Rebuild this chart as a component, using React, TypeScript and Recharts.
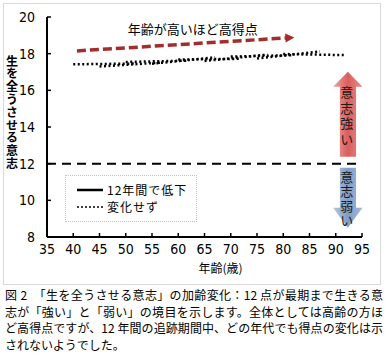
import React from 'react';
import {
  LineChart, Line, XAxis, YAxis, ReferenceLine, ReferenceArea, ReferenceDot, Legend
} from 'recharts';

const xTicks = [35, 40, 45, 50, 55, 60, 65, 70, 75, 80, 85, 90, 95];
const yTicks = [8, 10, 12, 14, 16, 18, 20];
const boundaryScore = 12;

// 年代別コホート：追跡開始時と12年後の得点
const cohortStartAge = [40, 45, 50, 55, 60, 65, 70, 75, 80];
const cohortEndAge = [52, 57, 62, 67, 72, 77, 82, 87, 92];
const cohortStartScore = [17.42, 17.3, 17.55, 17.45, 17.68, 17.6, 17.84, 17.74, 17.98];
const cohortEndScore = [17.46, 17.52, 17.62, 17.8, 17.72, 17.95, 17.92, 18.12, 17.92];

// 「年齢が高いほど高得点」の矢印
const trendAge = [40.7, 80.6];
const trendScore = [18.15, 18.86];

const legendItems = [
  { name: '12年間で低下', dash: undefined },
  { name: '変化せず', dash: '2 2' },
];

const captionLines = [
  '図 2　「生を全うさせる意志」の加齢変化：12 点が最期まで生きる意',
  '志が「強い」と「弱い」の境目を示します。全体としては高齢の方ほ',
  'ど高得点ですが、12 年間の追跡期間中、どの年代でも得点の変化は示',
  'されないようでした。',
];

const FONT = '"Noto Sans CJK JP", "Noto Sans", sans-serif';
const TICK_FONT = '"Liberation Sans Narrow", "DejaVu Sans Condensed", sans-serif';
const VERTICAL: React.CSSProperties = { writingMode: 'vertical-rl', textOrientation: 'upright' } as any;

const cohorts = cohortStartAge.map((a, i) => [
  { age: a, score: cohortStartScore[i] },
  { age: cohortEndAge[i], score: cohortEndScore[i] },
]);
const trendData = trendAge.map((a, i) => ({ age: a, score: trendScore[i] }));

/** 太い縦矢印（意志強い／意志弱い） */
const BigArrow = (props: any) => {
  const { x, y, width, height, dir, text, gradId, textTop, spacing } = props;
  const head = dir === 'up' ? 15 : 20;
  const l = x + width * 0.23;
  const r = x + width * 0.78;
  const cx = x + width / 2;
  const pts =
    dir === 'up'
      ? [[cx, y], [x + width, y + head], [r, y + head], [r, y + height], [l, y + height], [l, y + head], [x, y + head]]
      : [[l, y], [r, y], [r, y + height - head], [x + width, y + height - head], [cx, y + height], [x, y + height - head], [l, y + height - head]];
  return (
    <g>
      <polygon points={pts.map((p) => p.join(',')).join(' ')} fill={`url(#${gradId})`} />
      <text x={cx - 1} y={y + textTop} fontSize={13} fill="#1a1a1a" letterSpacing={spacing} style={VERTICAL}>
        {text}
      </text>
    </g>
  );
};

const TrendHead = (props: any) => {
  const { cx, cy, index } = props;
  if (index !== trendData.length - 1) return <g key={index} />;
  return (
    <polygon
      key={index}
      points="-1,-4.5 8,0 -1,4.5"
      fill="#a32d2d"
      transform={`translate(${cx},${cy}) rotate(-3.6)`}
    />
  );
};

const LegendBox = () => (
  <div
    style={{
      width: 132,
      height: 47,
      boxSizing: 'border-box',
      border: '1px dotted #b9c3d6',
      padding: '5px 0 0 11px',
      fontFamily: FONT,
      fontSize: 12,
      lineHeight: '17px',
      letterSpacing: 1,
      color: '#000',
    }}
  >
    {legendItems.map((it) => (
      <div key={it.name} style={{ display: 'flex', alignItems: 'center', whiteSpace: 'nowrap', height: 17 }}>
        <svg width={26} height={10} style={{ marginRight: 4 }}>
          <line x1={0} y1={5} x2={26} y2={5} stroke="#000" strokeWidth={it.dash ? 1.5 : 2.5} strokeDasharray={it.dash} />
        </svg>
        <span>{it.name}</span>
      </div>
    ))}
  </div>
);

export default function App() {
  return (
    <div style={{ position: 'absolute', left: 0, top: 0, width: 391, height: 353, background: '#fff', fontFamily: FONT }}>
      <div
        style={{
          position: 'absolute', left: 3, top: 3, width: 376, height: 280,
          border: '1px solid #d9d9d9',
        }}
      />
      <div style={{ position: 'absolute', left: 0, top: 0 }}>
        <LineChart
          width={391}
          height={285}
          margin={{ top: 17, right: 29, bottom: 18, left: 0 }}
          style={{ fontFamily: FONT }}
        >
          <defs>
            <linearGradient id="strongGrad" x1="0" y1="0" x2="1" y2="0">
              <stop offset="0%" stopColor="#f0a3a3" />
              <stop offset="50%" stopColor="#d95f5d" />
              <stop offset="100%" stopColor="#e88a88" />
            </linearGradient>
            <linearGradient id="weakGrad" x1="0" y1="0" x2="1" y2="0">
              <stop offset="0%" stopColor="#b6c8e0" />
              <stop offset="50%" stopColor="#7f9cc6" />
              <stop offset="100%" stopColor="#a5bbd9" />
            </linearGradient>
          </defs>

          <XAxis
            type="number"
            dataKey="age"
            domain={[35, 95]}
            ticks={xTicks}
            allowDataOverflow
            height={30}
            axisLine={{ stroke: '#000', strokeWidth: 2 }}
            tickLine={{ stroke: '#000', strokeWidth: 1.5 }}
            tickSize={-4}
            tickMargin={11}
            tick={{ fill: '#000', fontSize: 14, fontFamily: TICK_FONT }}
            label={{
              content: ({ viewBox }: any) => (
                <text
                  x={viewBox.x + viewBox.width / 2 + 16}
                  y={viewBox.y + 30}
                  textAnchor="middle"
                  dominantBaseline="central"
                  fontSize={12}
                  fill="#000"
                >
                  年齢(歳)
                </text>
              ),
            }}
          />
          <YAxis
            type="number"
            domain={[8, 20]}
            ticks={yTicks}
            allowDataOverflow
            width={47}
            axisLine={{ stroke: '#000', strokeWidth: 2 }}
            tickLine={{ stroke: '#000', strokeWidth: 1.5 }}
            tickSize={-4}
            tickMargin={16}
            tick={{ fill: '#000', fontSize: 14, fontFamily: TICK_FONT }}
            label={{
              content: ({ viewBox }: any) => (
                <text
                  x={12}
                  y={viewBox.y + 38}
                  fontSize={12}
                  fontWeight="bold"
                  fill="#000"
                  letterSpacing={0.8}
                  style={VERTICAL}
                >
                  生を全うさせる意志
                </text>
              ),
            }}
          />

          {/* 強い・弱いの境目 */}
          <ReferenceLine y={boundaryScore} stroke="#000" strokeWidth={2} strokeDasharray="9 6" />

          {/* 意志強い／意志弱い の矢印 */}
          <ReferenceArea
            x1={89.5} x2={95.1} y1={12.38} y2={17.02}
            ifOverflow="visible"
            shape={(p: any) => (
              <BigArrow {...p} dir="up" text="意志強い" gradId="strongGrad" textTop={14} spacing={2.5} />
            )}
          />
          <ReferenceArea
            x1={89.5} x2={95.1} y1={8.5} y2={11.78}
            ifOverflow="visible"
            shape={(p: any) => (
              <BigArrow {...p} dir="down" text="意志弱い" gradId="weakGrad" textTop={3} spacing={1.2} />
            )}
          />

          {/* 各コホートの12年間の変化 */}
          {cohorts.map((d, i) => (
            <Line
              key={i}
              data={d}
              dataKey="score"
              stroke="#000"
              strokeWidth={2.5}
              strokeDasharray="2 2.5"
              dot={false}
              activeDot={false}
              isAnimationActive={false}
              legendType="none"
            />
          ))}

          {/* 年齢が高いほど高得点 */}
          <Line
            data={trendData}
            dataKey="score"
            stroke="#a32d2d"
            strokeWidth={3.5}
            strokeDasharray="9 4"
            dot={TrendHead}
            activeDot={false}
            isAnimationActive={false}
            legendType="none"
          />
          <ReferenceDot
            x={50.4}
            y={19.36}
            r={0}
            fill="none"
            stroke="none"
            ifOverflow="visible"
            label={{
              content: ({ viewBox }: any) => (
                <text x={viewBox.x} y={viewBox.y} dominantBaseline="central" fontSize={13} fill="#000">
                  年齢が高いほど高得点
                </text>
              ),
            }}
          />

          <Legend
            layout="vertical"
            align="center"
            verticalAlign="middle"
            content={() => <LegendBox />}
            wrapperStyle={{ position: 'absolute', left: 65, top: 175, width: 132, height: 47 }}
          />
        </LineChart>
      </div>

      <div style={{ position: 'absolute', left: 5, top: 287, width: 378, fontSize: 12, lineHeight: '16.5px', color: '#000' }}>
        {captionLines.map((line, i) => (
          <div
            key={i}
            style={{
              whiteSpace: 'nowrap',
              textAlign: i < captionLines.length - 1 ? 'justify' : 'left',
              textAlignLast: i < captionLines.length - 1 ? 'justify' : 'left',
            }}
          >
            {line}
          </div>
        ))}
      </div>
    </div>
  );
}
